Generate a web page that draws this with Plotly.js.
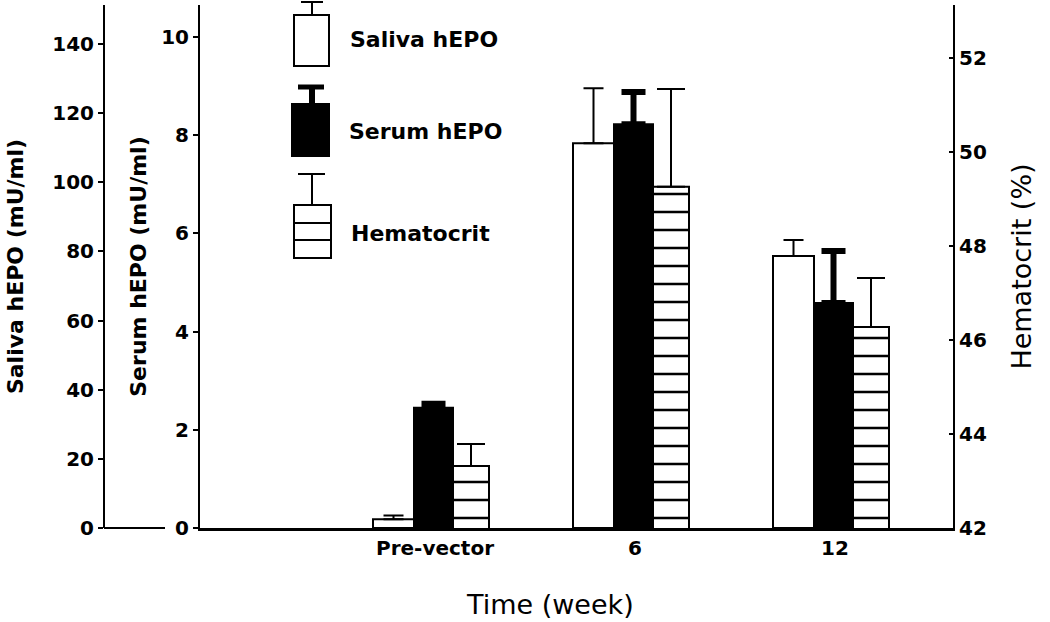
<!DOCTYPE html>
<html>
<head>
<meta charset="utf-8">
<script src="https://cdn.plot.ly/plotly-3.0.1.min.js"></script>
<style>
  body { margin: 0; background: #fff; }
  #chart { width: 1050px; height: 622px; }
</style>
</head>
<body>
<div id="chart"></div>
<script>
// time points (x categories)
const weeks = ["Pre-vector", "6", "12"];
const weekPos = [0, 1, 2];

// saliva hEPO, mU/ml (left outer axis)
const saliva = [2.5, 111.3, 78.7];
const salivaErr = [1.1, 15.9, 4.6];

// serum hEPO, mU/ml (left inner axis)
const serum = [2.45, 8.22, 4.58];
const serumErr = [0.08, 0.66, 1.06];

// hematocrit, % (right axis)
const hematocrit = [43.32, 49.26, 46.28];
const hematocritErr = [0.47, 2.08, 1.04];

const legendLabels = ["Saliva hEPO", "Serum hEPO", "Hematocrit"];

const W = 1050, H = 622;
const M = { l: 104, r: 97, t: 5, b: 94 };
const plotW = W - M.l - M.r;
const plotH = H - M.t - M.b;
// pixel -> paper helpers, only used for the hand drawn legend
const px = x => (x - M.l) / plotW;
const py = y => (H - M.b - y) / plotH;

const boldFont = { family: "DejaVu Sans", size: 20, color: "#000", weight: "bold" };

const salivaTrace = {
    type: "bar", name: legendLabels[0],
    x: weekPos, y: saliva, yaxis: "y3",
    width: 0.205, offset: -0.31,
    marker: { color: "#fff", line: { color: "#000", width: 2 } },
    error_y: { type: "data", symmetric: false, array: salivaErr, arrayminus: [0, 0, 0],
               color: "#000", thickness: 2, width: 10 },
    showlegend: false
};

const serumTrace = {
    type: "bar", name: legendLabels[1],
    x: weekPos, y: serum, yaxis: "y",
    width: 0.195, offset: -0.105,
    marker: { color: "#000", line: { color: "#000", width: 2 } },
    error_y: { type: "data", symmetric: false, array: serumErr, arrayminus: [0, 0, 0],
               color: "#000", thickness: 6, width: 12 },
    showlegend: false
};

const hematocritTrace = {
    type: "bar", name: legendLabels[2],
    x: weekPos, y: hematocrit, yaxis: "y2",
    width: 0.18, offset: 0.09,
    marker: {
        color: "#fff",
        line: { color: "#000", width: 2 },
        pattern: { shape: "-", size: 18, solidity: 0.14, fgcolor: "#000", bgcolor: "#fff", fillmode: "replace" }
    },
    error_y: { type: "data", symmetric: false, array: hematocritErr, arrayminus: [0, 0, 0],
               color: "#000", thickness: 2, width: 14 },
    showlegend: false
};

// custom legend glyphs (bar + error bar)
const legendShapes = [];
function seg(x0, y0, x1, y1, w) {
    legendShapes.push({ type: "line", xref: "paper", yref: "paper",
        x0: px(x0), y0: py(y0), x1: px(x1), y1: py(y1), line: { color: "#000", width: w } });
}
function box(x0, y0, x1, y1, fill) {
    legendShapes.push({ type: "rect", xref: "paper", yref: "paper",
        x0: px(x0), y0: py(y0), x1: px(x1), y1: py(y1),
        fillcolor: fill, line: { color: "#000", width: 2 } });
}
// saliva
seg(301, 2, 323, 2, 2); seg(312, 2, 312, 15, 2); box(294, 15, 329, 66, "#fff");
// serum
seg(298, 87, 324, 87, 5); seg(312, 87, 312, 104, 6); box(292, 104, 329, 156, "#000");
// hematocrit
seg(298, 174, 325, 174, 2); seg(312, 174, 312, 205, 2); box(294, 205, 331, 258, "#fff");
seg(294, 223, 331, 223, 2); seg(294, 240, 331, 240, 2);

// baseline stub of the saliva axis
legendShapes.push({ type: "line", xref: "paper", yref: "paper",
    x0: 0, y0: 0, x1: px(165), y1: 0, line: { color: "#000", width: 2 } });

const legendY = [40, 132, 233];
const legendX = [348, 347, 349];
const annotations = legendLabels.map((t, i) => ({
    text: t, xref: "paper", yref: "paper", x: px(legendX[i]), y: py(legendY[i]),
    xanchor: "left", yanchor: "middle", showarrow: false,
    font: { family: "DejaVu Sans", size: 22, color: "#000", weight: "bold" }
}));
// x axis title, sits a bit left of the plot centre in the original
annotations.push({
    text: "Time (week)", xref: "paper", yref: "paper", x: px(550), y: py(604),
    xanchor: "center", yanchor: "middle", showarrow: false,
    font: { family: "DejaVu Sans", size: 27, color: "#000" }
});

const layout = {
    width: W, height: H,
    margin: M,
    paper_bgcolor: "#fff", plot_bgcolor: "#fff",
    barmode: "overlay",
    showlegend: false,
    xaxis: {
        domain: [px(200), 1],
        range: [-1.175, 2.59],
        tickvals: weekPos, ticktext: weeks,
        ticks: "", showgrid: false, zeroline: false,
        showline: true, linecolor: "#000", linewidth: 3,
        tickfont: boldFont
    },
    yaxis: {
        range: [0, 10.65], dtick: 2,
        ticks: "outside", ticklen: 5, tickwidth: 2, tickcolor: "#000",
        showgrid: false, zeroline: false,
        showline: true, linecolor: "#000", linewidth: 2,
        tickfont: boldFont,
        title: { text: "Serum hEPO (mU/ml)", standoff: 8,
                 font: { family: "DejaVu Sans", size: 22, color: "#000", weight: "bold" } }
    },
    yaxis2: {
        overlaying: "y", side: "right", anchor: "x",
        range: [42, 53.13], dtick: 2,
        ticks: "inside", ticklen: 4, tickwidth: 2, tickcolor: "#000",
        showgrid: false, zeroline: false,
        showline: true, linecolor: "#000", linewidth: 2,
        tickfont: boldFont,
        title: { text: "Hematocrit (%)", standoff: 26,
                 font: { family: "DejaVu Sans", size: 27, color: "#000" } }
    },
    yaxis3: {
        overlaying: "y", side: "left", anchor: "free", position: 0,
        range: [0, 151.3], dtick: 20,
        ticks: "outside", ticklen: 5, tickwidth: 2, tickcolor: "#000",
        showgrid: false, zeroline: false,
        showline: true, linecolor: "#000", linewidth: 2,
        tickfont: boldFont,
        title: { text: "Saliva hEPO (mU/ml)", standoff: 22,
                 font: { family: "DejaVu Sans", size: 22, color: "#000", weight: "bold" } }
    },
    shapes: legendShapes,
    annotations: annotations
};

Plotly.newPlot("chart", [salivaTrace, serumTrace, hematocritTrace], layout, { displayModeBar: false, staticPlot: true });
</script>
</body>
</html>
